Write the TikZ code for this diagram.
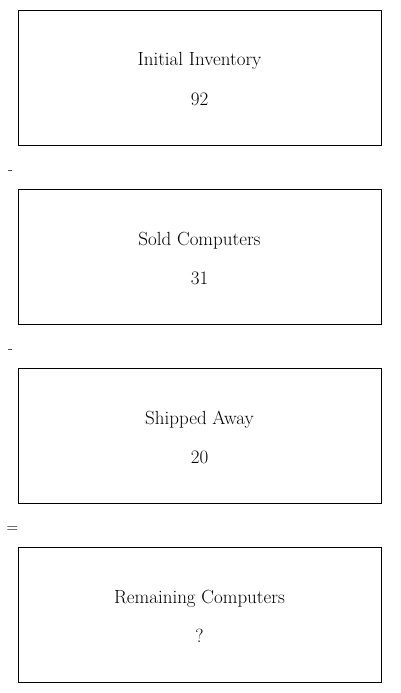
\documentclass[tikz,border=0pt]{standalone}
\begin{document}
\begin{tikzpicture}[x=1pt,y=-1pt,
  box/.style={draw,line width=0.8pt,minimum width=363pt,minimum height=135pt,inner sep=0pt},
  lbl/.style={font=\fontsize{19}{22}\selectfont,anchor=base},
  op/.style={font=\fontsize{16}{18}\selectfont}]
\useasboundingbox (0,0) rectangle (400,693);
\node[box] (b1) at (199.5,77.5) {};
\node[box] (b2) at (199.5,256.5) {};
\node[box] (b3) at (199.5,435.5) {};
\node[box] (b4) at (199.5,614.5) {};
\node[lbl] (t1) at (199.5,66) {Initial Inventory};
\node[lbl] (n1) at (199.5,105) {92};
\node[lbl] (t2) at (199.5,245) {Sold Computers};
\node[lbl] (n2) at (199.5,284) {31};
\node[lbl] (t3) at (199.5,424) {Shipped Away};
\node[lbl] (n3) at (199.5,463) {20};
\node[lbl] (t4) at (199.5,603) {Remaining Computers};
\node[lbl] (n4) at (199.5,642) {?};
\node[op] (o1) at (10.5,173) {-};
\node[op] (o2) at (10.5,352) {-};
\node[op] (o3) at (12.5,530) {=};
\end{tikzpicture}
\end{document}
